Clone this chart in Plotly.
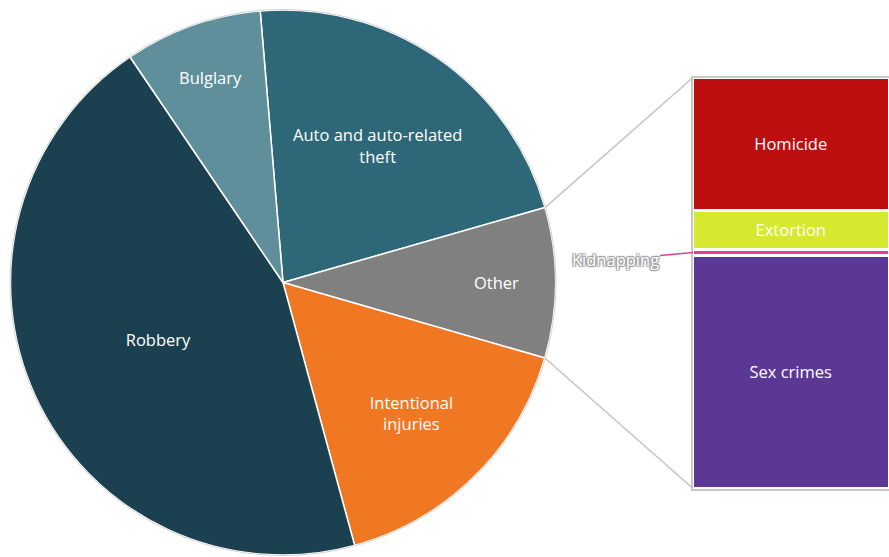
import math
import plotly.graph_objects as go

# ---- data ----
pie_labels = ["Auto and auto-related<br>theft", "Other", "Intentional<br>injuries", "Robbery", "Bulglary"]
pie_values = [21.9, 8.9, 16.3, 44.75, 8.15]
pie_colors = ["#2e6878", "#808080", "#f07822", "#1b4150", "#5f8f9a"]

other_labels = ["Sex crimes", "Kidnapping", "Extortion", "Homicide"]
other_values = [56.6, 1.6, 9.5, 32.3]
other_colors = ["#5c3896", "#e0409b", "#d6e830", "#bd0f0f"]

W, H = 889, 557
ROTATION = -4.8
FONT = "Open Sans"
FSIZE = 16.5

# pie geometry (pixels)
pie_left, pie_right, pie_top, pie_bottom = 10.5, 555.5, 10.0, 555.0
cx = (pie_left + pie_right) / 2
cy = (pie_top + pie_bottom) / 2
R = min(pie_right - pie_left, pie_bottom - pie_top) / 2

# bar geometry (pixels)
bar_left, bar_top, bar_bottom = 693.0, 77.5, 488.5

fig = go.Figure()

fig.add_trace(go.Pie(
    labels=pie_labels, values=pie_values, sort=False, direction="clockwise",
    rotation=ROTATION,
    marker=dict(colors=pie_colors, line=dict(color="white", width=1.5)),
    textinfo="label", textposition="inside", insidetextorientation="horizontal",
    insidetextfont=dict(color="white", size=FSIZE, family=FONT),
    domain=dict(x=[pie_left / W, pie_right / W], y=[1 - pie_bottom / H, 1 - pie_top / H]),
    showlegend=False, hoverinfo="label+percent",
))

for lab, val, col in zip(other_labels, other_values, other_colors):
    fig.add_trace(go.Bar(
        x=[0], y=[val], name=lab, width=1,
        marker=dict(color=col, line=dict(color="white", width=2.5)),
        text=[lab if lab != "Kidnapping" else ""], textposition="inside",
        insidetextanchor="middle",
        textfont=dict(color="white", size=FSIZE, family=FONT),
        xaxis="x", yaxis="y", showlegend=False,
    ))

total_other = sum(other_values)

# connector lines from "Other" slice edges to the bar frame
frac_before = sum(pie_values[:1]) / sum(pie_values)
frac_other = pie_values[1] / sum(pie_values)
a1 = math.radians(ROTATION + 360 * frac_before)
a2 = math.radians(ROTATION + 360 * (frac_before + frac_other))
p1 = (cx + R * math.sin(a1), cy - R * math.cos(a1))
p2 = (cx + R * math.sin(a2), cy - R * math.cos(a2))

def to_paper(px, py):
    return px / W, 1 - py / H

shapes = []
for (px, py), by in [(p1, bar_top), (p2, bar_bottom)]:
    x0, y0 = to_paper(px, py)
    x1, y1 = to_paper(bar_left, by)
    shapes.append(dict(type="line", xref="paper", yref="paper", x0=x0, y0=y0, x1=x1, y1=y1,
                       line=dict(color="#c4c4c4", width=1.5)))
# faint outer ring of pie
shapes.append(dict(type="circle", xref="paper", yref="paper",
                   x0=(cx - R - 0.5) / W, x1=(cx + R + 0.5) / W,
                   y0=1 - (cy + R + 0.5) / H, y1=1 - (cy - R - 0.5) / H,
                   line=dict(color="#d4d4d4", width=1)))

# Kidnapping callout
kid_idx = other_labels.index("Kidnapping")
kid_mid = sum(other_values[:kid_idx]) + other_values[kid_idx] / 2
annotations = [dict(
    x=-0.5, y=kid_mid, xref="x", yref="y", text="Kidnapping",
    showarrow=True, arrowhead=0, arrowwidth=1.5, arrowcolor="#e0409b",
    ax=-78, ay=7, xanchor="center",
    font=dict(color="white", size=FSIZE, family=FONT,
              shadow="1px 1px 1px #999, -1px -1px 1px #999, 1px -1px 1px #999, -1px 1px 1px #999"),
)]

fig.update_layout(
    width=W, height=H, margin=dict(l=0, r=0, t=0, b=0),
    paper_bgcolor="white", plot_bgcolor="white",
    barmode="stack", bargap=0,
    xaxis=dict(domain=[bar_left / W, 1.0], range=[-0.5, 0.5], showgrid=False,
               zeroline=False, showticklabels=False, ticks="",
               showline=True, mirror=True, linecolor="#c8c8c8", linewidth=1.5, fixedrange=True),
    yaxis=dict(domain=[1 - bar_bottom / H, 1 - bar_top / H], range=[0, total_other],
               showgrid=False, zeroline=False, showticklabels=False, ticks="",
               showline=True, linecolor="#c8c8c8", linewidth=1.5, fixedrange=True),
    shapes=shapes, annotations=annotations,
    font=dict(family=FONT),
)

fig.write_html("out.html", config={"displayModeBar": False},
               post_script="document.body.style.margin='0';document.body.style.padding='0';")
